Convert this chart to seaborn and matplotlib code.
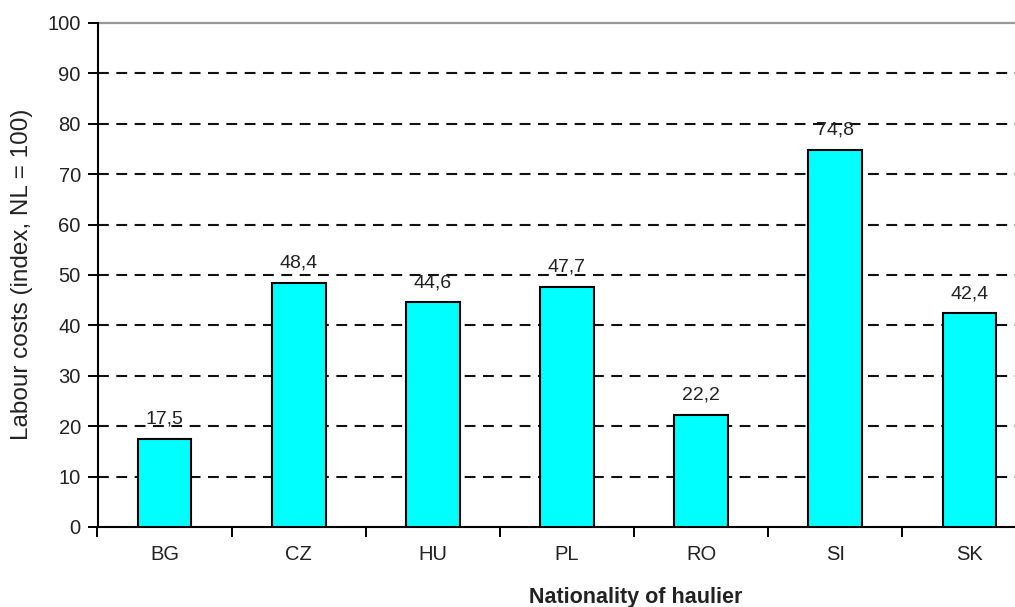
import matplotlib
matplotlib.use("Agg")
import matplotlib.pyplot as plt
import seaborn as sns
import pandas as pd

countries = ["BG", "CZ", "HU", "PL", "RO", "SI", "SK"]
labour_index = [17.5, 48.4, 44.6, 47.7, 22.2, 74.8, 42.4]
y_ticks = [0, 10, 20, 30, 40, 50, 60, 70, 80, 90, 100]

sns.set_theme(style="white")
plt.rcParams["font.family"] = ["Liberation Sans", "DejaVu Sans"]

TXT = "#222222"
df = pd.DataFrame({"country": countries, "index": labour_index})

fig = plt.figure(figsize=(10.15, 6.07), dpi=100)
ax = fig.add_axes([97.5 / 1015, 80 / 607, 939 / 1015, 504 / 607])

sns.barplot(data=df, x="country", y="index", ax=ax, color="#00FFFF",
            saturation=1, width=0.4, edgecolor="black", linewidth=1.5,
            zorder=3)

ax.set_ylim(0, 100)
ax.set_xlim(-0.5, len(countries) - 0.5)
ax.set_yticks(y_ticks)
ax.set_yticklabels([str(t) for t in y_ticks], fontsize=14.5, color=TXT)

# category boundaries carry the x ticks, category names sit between them
ax.set_xticks([i - 0.5 for i in range(len(countries))])
ax.set_xticklabels([""] * len(countries))
ax.set_xticks(range(len(countries)), minor=True)
ax.set_xticklabels(countries, minor=True, fontsize=14.5, color=TXT)
ax.tick_params(axis="x", which="major", direction="out", length=7, width=1.4,
               color="black", bottom=True)
ax.tick_params(axis="x", which="minor", length=0, pad=13)
ax.tick_params(axis="y", direction="inout", length=14, width=1.4,
               color="black", left=True, pad=5)

# dashed gridlines
for t in y_ticks[1:-1]:
    ax.axhline(t, color="#111111", linestyle=(0, (5.2, 3.6)), linewidth=1.5,
               zorder=1)
ax.axhline(100, color="#999999", linewidth=1.6, zorder=1, clip_on=False)

for s in ["top", "right"]:
    ax.spines[s].set_visible(False)
for s in ["left", "bottom"]:
    ax.spines[s].set_color("black")
    ax.spines[s].set_linewidth(1.5)

for i, v in enumerate(labour_index):
    ax.text(i, v + 3.0, f"{v:.1f}".replace(".", ","), ha="center",
            va="baseline", fontsize=14, color=TXT, zorder=4)

ax.set_xlabel("")
ax.set_ylabel("")
fig.text(22 / 1015, 1 - 274 / 607, "Labour costs (index, NL = 100)",
         rotation=90, ha="center", va="center", fontsize=17.5, color=TXT)
fig.text(636 / 1015, 1 - 598 / 607, "Nationality of haulier", ha="center",
         va="center", fontsize=15.5, fontweight="bold", color=TXT)

fig.savefig("out.png", dpi=100, facecolor="white")
